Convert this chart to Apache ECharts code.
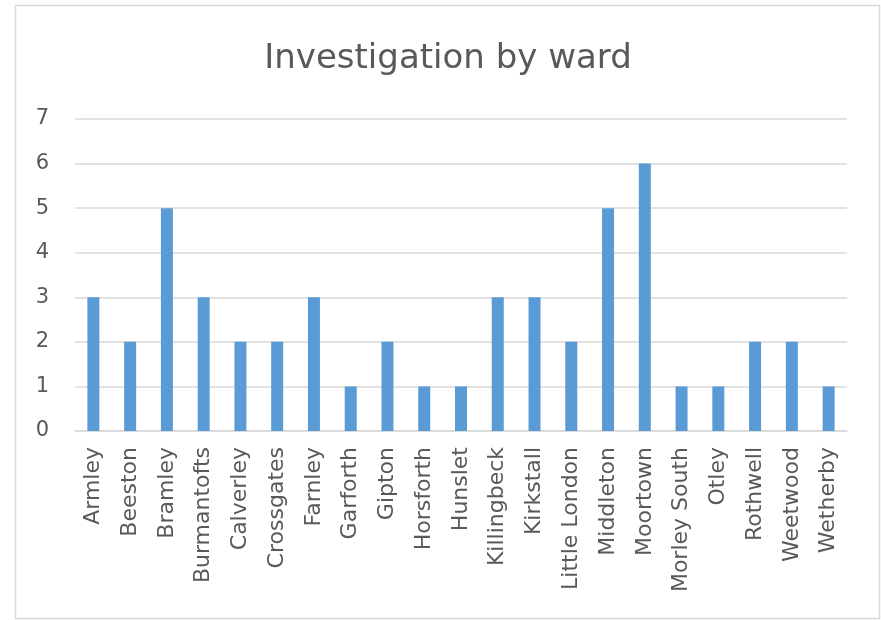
<!DOCTYPE html>
<html><head><meta charset="utf-8">
<script src="https://cdn.jsdelivr.net/npm/echarts@6/dist/echarts.min.js"></script>
<style>html,body{margin:0;padding:0;background:#fff}#c{width:881px;height:620px}</style>
</head><body><div id="c"></div>
<script>
const categories = ["Armley","Beeston","Bramley","Burmantofts","Calverley","Crossgates","Farnley","Garforth","Gipton","Horsforth","Hunslet","Killingbeck","Kirkstall","Little London","Middleton","Moortown","Morley South","Otley","Rothwell","Weetwood","Wetherby"];
const values = [3,2,5,3,2,2,3,1,2,1,1,3,3,2,5,6,1,1,2,2,1];
const titleText = "Investigation by ward";

const F = 'DejaVu Sans';
const chart = echarts.init(document.getElementById('c'), null, {renderer:'canvas'});
chart.setOption({
  animation:false,
  backgroundColor:'#fff',
  textStyle:{fontFamily:F},
  title:{text:titleText,top:37,left:443,textAlign:'center',
    textStyle:{fontFamily:F,fontSize:34,fontWeight:'normal',color:'#595959'}},
  graphic:[{type:'rect',shape:{x:15.5,y:5.5,width:864,height:613},style:{fill:null,stroke:'#d9d9d9',lineWidth:1.5},silent:true}],
  grid:{left:75,right:34,top:119,bottom:189,containLabel:false},
  xAxis:{type:'category',data:categories,
    axisLine:{lineStyle:{color:'#d9d9d9',width:1.5}},axisTick:{show:false},
    axisLabel:{interval:0,rotate:90,margin:16,fontSize:22,color:'#595959',fontFamily:F}},
  yAxis:{type:'value',min:0,max:7,interval:1,
    axisLine:{show:false},axisTick:{show:false},
    splitLine:{lineStyle:{color:'#d9d9d9',width:1.5}},
    axisLabel:{margin:26,fontSize:21,color:'#595959',fontFamily:F}},
  series:[{type:'bar',data:values,barWidth:12,itemStyle:{color:'#5b9bd5'}}]
});
</script></body></html>
